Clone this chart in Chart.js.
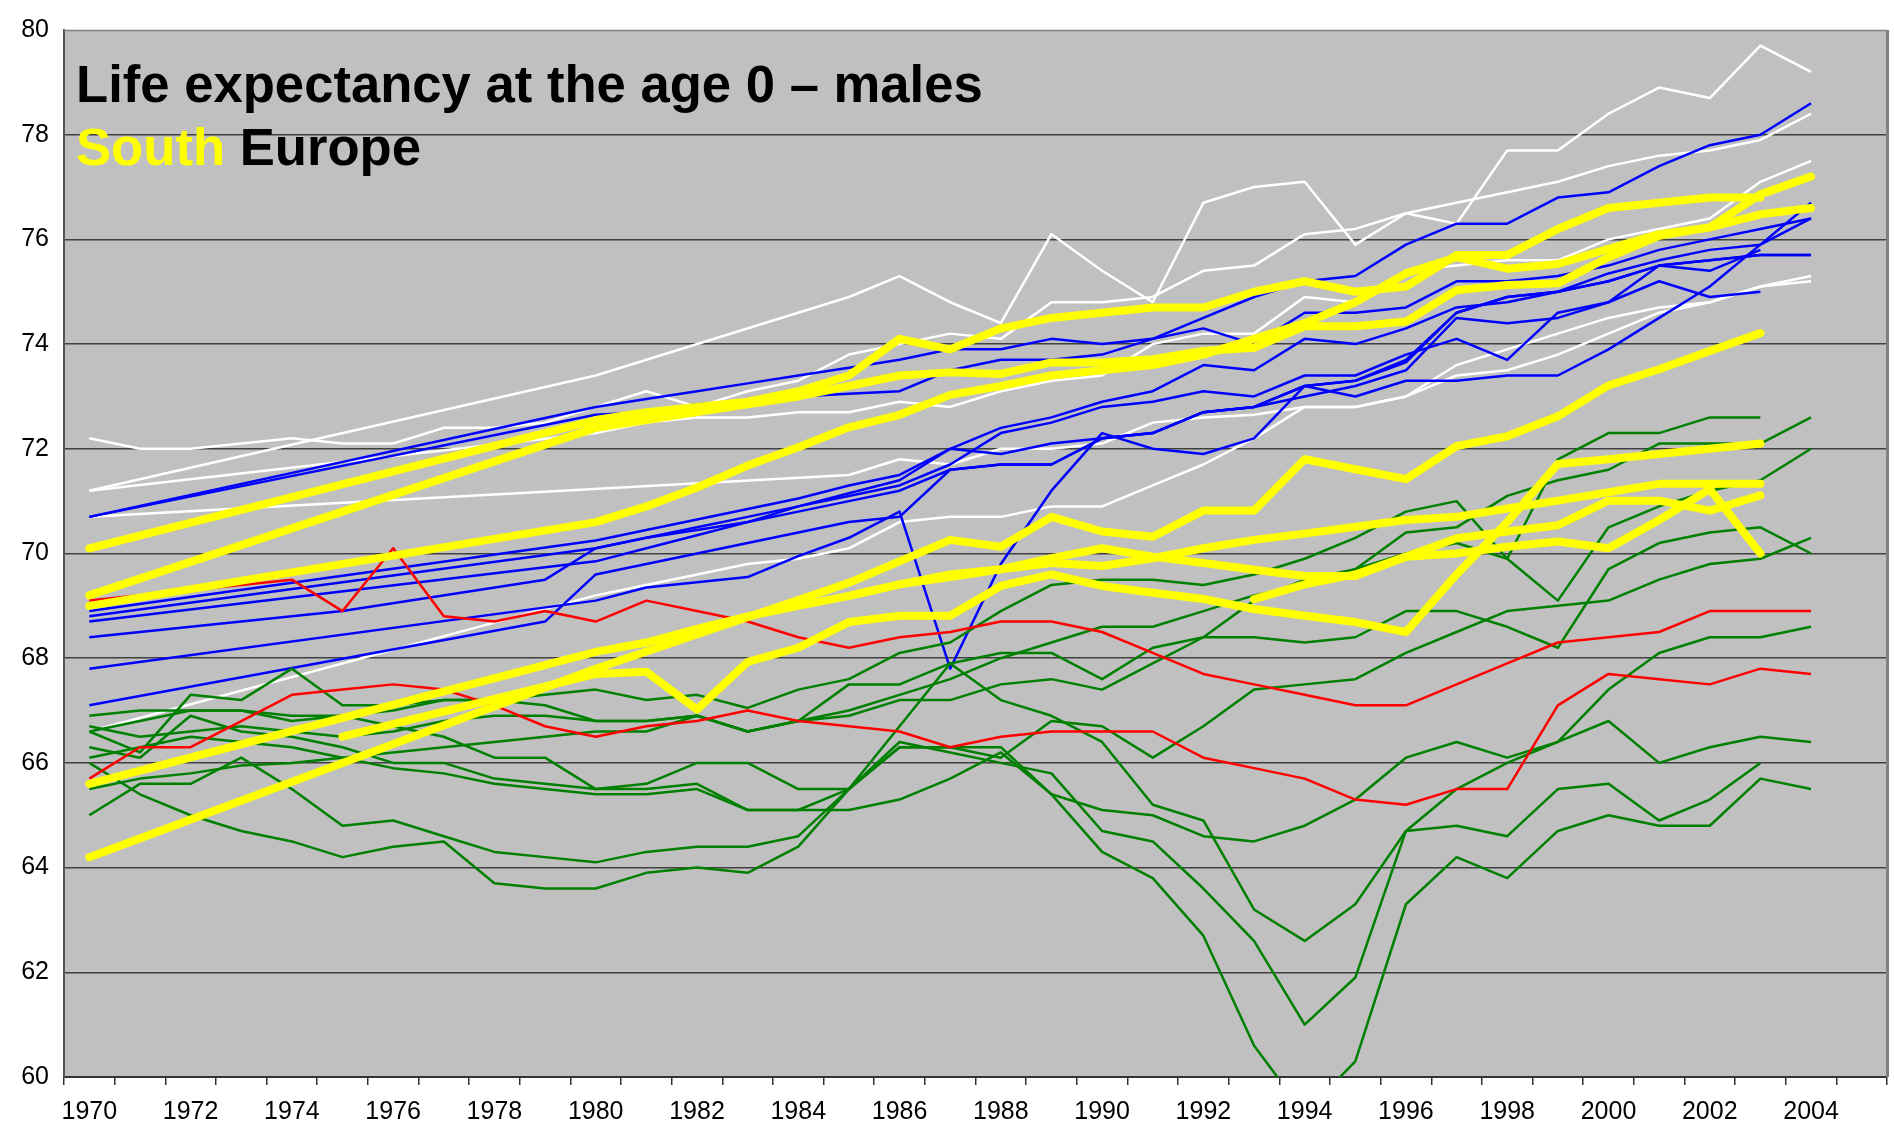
<!DOCTYPE html>
<html>
<head>
<meta charset="utf-8">
<script src="https://cdn.jsdelivr.net/npm/chart.js@4.4.1/dist/chart.umd.min.js"></script>
<style>
  html, body { margin: 0; padding: 0; background: #fff; }
  #wrap { width: 1894px; height: 1131px; }
</style>
</head>
<body>
<div id="wrap"><canvas id="chart" width="1894" height="1131"></canvas></div>
<script>
const years = [1970, 1971, 1972, 1973, 1974, 1975, 1976, 1977, 1978, 1979,
  1980, 1981, 1982, 1983, 1984, 1985, 1986, 1987, 1988, 1989,
  1990, 1991, 1992, 1993, 1994, 1995, 1996, 1997, 1998, 1999,
  2000, 2001, 2002, 2003, 2004, 2005];

const titleLine1 = 'Life expectancy at the age 0 \u2013 males';
const titleWord1 = 'South';
const titleWord2 = 'Europe';

const _ = null;

// South Europe (thick yellow)
const ySouth1 = [70.1, _, _, _, _, _, _, _, _, _, 72.55, 72.7, 72.8, 72.9, 73.1, 73.4, 74.1, 73.9, 74.3, 74.5, 74.6, 74.7, 74.7, 75.0, 75.2, 75.0, 75.1, 75.7, 75.7, 76.2, 76.6, 76.7, 76.8, 76.8, _];
const ySouth2 = [69.2, _, _, _, _, _, _, _, _, _, 72.4, 72.55, 72.7, 72.85, 73.0, 73.2, 73.4, 73.46, 73.43, 73.65, 73.65, 73.71, 73.87, 73.93, 74.34, 74.34, 74.43, 75.03, 75.13, 75.16, 75.66, 76.07, 76.23, 76.48, 76.6];
const ySouth3 = [69.0, _, _, _, _, _, _, _, _, _, 70.6, 70.9, 71.26, 71.68, 72.03, 72.41, 72.65, 73.03, 73.2, 73.4, 73.5, 73.6, 73.8, 74.1, 74.4, 74.8, 75.35, 75.66, 75.44, 75.53, 75.82, 76.1, 76.23, 76.86, 77.2];
const ySouth4 = [64.2, _, _, _, _, _, _, _, _, _, 67.8, _, _, _, _, 69.44, 69.85, 70.26, 70.13, 70.7, 70.42, 70.32, 70.82, 70.82, 71.8, 71.61, 71.42, 72.05, 72.24, 72.62, 73.21, 73.52, 73.87, 74.21, _];
const ySouth5 = [65.6, _, _, _, _, _, _, _, _, _, 68.12, 68.3, 68.56, 68.8, 69.0, 69.19, 69.41, 69.6, 69.7, 69.91, 70.1, 69.94, 69.82, 69.69, 69.57, 69.57, 69.94, 70.29, 70.42, 70.54, 71.01, 71.01, 70.82, 71.11, _];
const ySouth6 = [_, _, _, _, _, 66.5, _, _, _, _, 67.7, 67.74, 67.02, 67.93, 68.2, 68.69, 68.81, 68.81, 69.38, 69.6, 69.38, 69.25, 69.13, 68.94, 68.81, 68.69, 68.5, 69.6, 70.6, 71.71, 71.8, 71.9, 72.0, 72.1, _];
const ySouth7 = [_, _, _, _, _, _, _, _, _, _, _, _, _, _, _, 69.19, 69.41, 69.55, 69.7, 69.82, 69.76, 69.91, 70.1, 70.26, 70.38, 70.51, 70.64, 70.7, 70.86, 71.01, 71.17, 71.33, 71.33, 71.33, _];
const ySouth8 = [_, _, _, _, _, _, _, _, _, _, _, _, _, _, _, _, _, _, _, _, _, _, _, 69.13, 69.41, 69.6, 69.94, 70.0, 70.13, 70.23, 70.1, 70.64, 71.23, 70.0, _];

// red
const rRed1 = [69.1, _, _, _, 69.5, 68.9, 70.1, 68.8, 68.7, 68.9, 68.7, 69.1, 68.9, 68.7, 68.4, 68.2, 68.4, 68.5, 68.7, 68.7, 68.5, 68.1, 67.7, 67.5, 67.3, 67.1, 67.1, 67.5, 67.9, 68.3, 68.4, 68.5, 68.9, 68.9, 68.9];
const rRed2 = [65.7, 66.3, 66.3, 66.8, 67.3, 67.4, 67.5, 67.4, 67.1, 66.7, 66.5, 66.7, 66.8, 67.0, 66.8, 66.7, 66.6, 66.3, 66.5, 66.6, 66.6, 66.6, 66.1, 65.9, 65.7, 65.3, 65.2, 65.5, 65.5, 67.1, 67.7, 67.6, 67.5, 67.8, 67.7];

// green
const gEast1 = [66.9, 67.0, 67.0, 67.0, 66.8, 66.9, 67.0, 67.2, 67.2, 67.3, 67.4, 67.2, 67.3, 67.05, 67.4, 67.6, 68.1, 68.3, 68.9, 69.4, 69.5, 69.5, 69.4, 69.6, 69.9, 70.3, 70.8, 71.0, 69.9, 71.8, 72.3, 72.3, 72.6, 72.6, _];
const gEast2 = [66.6, 66.2, 67.3, 67.2, 67.8, 67.1, 67.1, 67.2, 67.2, 67.1, 66.8, 66.8, 66.9, 66.6, 66.8, 67.5, 67.5, 67.9, 68.1, 68.1, 67.6, 68.2, 68.4, 69.1, 69.5, 69.7, 70.4, 70.5, 71.1, 71.4, 71.6, 72.1, 72.1, 72.1, 72.6];
const gEast3 = [66.6, 66.8, 67.0, 67.0, 66.9, 66.9, 66.7, 66.5, 66.1, 66.1, 65.5, 65.6, 66.0, 66.0, 65.5, 65.5, 66.3, 66.3, 66.1, 66.8, 66.7, 66.1, 66.7, 67.4, 67.5, 67.6, 68.1, 68.5, 68.9, 69.0, 69.1, 69.5, 69.8, 69.9, 70.3];
const gEast4 = [66.7, 66.5, 66.6, 66.7, 66.6, 66.5, 66.6, 66.8, 66.9, 66.9, 66.8, 66.8, 66.9, 66.6, 66.8, 67.0, 67.3, 67.6, 68.0, 68.3, 68.6, 68.6, 68.9, 69.2, 69.4, 69.7, 70.0, 70.2, 69.9, 69.1, 70.5, 70.9, 71.2, 71.4, 72.0];
const gEast5 = [65.5, 65.7, 65.8, 65.95, 66.0, 66.1, 66.2, 66.3, 66.4, 66.5, 66.6, 66.6, 66.9, 66.6, 66.8, 66.9, 67.2, 67.2, 67.5, 67.6, 67.4, 67.9, 68.4, 68.4, 68.3, 68.4, 68.9, 68.9, 68.6, 68.2, 69.7, 70.2, 70.4, 70.5, 70.0];
const gEast6 = [66.3, 66.1, 66.9, 66.6, 66.5, 66.3, 66.0, 66.0, 65.7, 65.6, 65.5, 65.5, 65.6, 65.1, 65.1, 65.1, 65.3, 65.7, 66.2, 65.4, 65.1, 65.0, 64.6, 64.5, 64.8, 65.3, 66.1, 66.4, 66.1, 66.4, 67.4, 68.1, 68.4, 68.4, 68.6];
const gEast7 = [66.1, 66.3, 66.5, 66.4, 66.3, 66.1, 65.9, 65.8, 65.6, 65.5, 65.4, 65.4, 65.5, 65.1, 65.1, 65.5, 66.7, 67.9, 67.2, 66.9, 66.4, 65.2, 64.9, 63.2, 62.6, 63.3, 64.7, 65.5, 66.0, 66.4, 66.8, 66.0, 66.3, 66.5, 66.4];
const gEast8 = [66.0, 65.4, 65.0, 64.7, 64.5, 64.2, 64.4, 64.5, 63.7, 63.6, 63.6, 63.9, 64.0, 63.9, 64.4, 65.5, 66.3, 66.3, 66.3, 65.4, 64.3, 63.8, 62.7, 60.6, 59.3, 60.3, 63.3, 64.2, 63.8, 64.7, 65.0, 64.8, 64.8, 65.7, 65.5];
const gEast9 = [65.0, 65.6, 65.6, 66.1, 65.5, 64.8, 64.9, 64.6, 64.3, 64.2, 64.1, 64.3, 64.4, 64.4, 64.6, 65.5, 66.4, 66.2, 66.0, 65.8, 64.7, 64.5, 63.6, 62.6, 61.0, 61.9, 64.7, 64.8, 64.6, 65.5, 65.6, 64.9, 65.3, 66.0, _];

// blue
const bWest1 = [70.7, _, _, _, _, _, _, _, _, _, 72.65, 72.7, 72.85, 72.9, 73.0, 73.05, 73.1, 73.5, 73.7, 73.7, 73.8, 74.1, 74.5, 74.9, 75.2, 75.3, 75.9, 76.3, 76.3, 76.8, 76.9, 77.4, 77.8, 78.0, 78.6];
const bWest2 = [70.7, _, _, _, _, _, _, _, _, _, 72.8, 72.95, 73.1, 73.25, 73.4, 73.55, 73.7, 73.9, 73.9, 74.1, 74.0, 74.1, 74.3, 74.0, 74.6, 74.6, 74.7, 75.2, 75.2, 75.3, 75.5, 75.8, 76.0, 76.2, 76.4];
const bWest3 = [68.9, _, _, _, _, _, _, _, _, _, 70.25, 70.45, 70.65, 70.85, 71.05, 71.3, 71.5, 72.0, 72.4, 72.6, 72.9, 73.1, 73.6, 73.5, 74.1, 74.0, 74.3, 74.7, 74.8, 75.0, 75.35, 75.6, 75.8, 75.9, 76.4];
const bWest4 = [68.8, _, _, _, _, _, _, _, _, _, 70.1, 70.3, 70.5, 70.7, 70.9, 71.1, 71.3, 71.7, 72.3, 72.5, 72.8, 72.9, 73.1, 73.0, 73.4, 73.4, 73.8, 74.1, 73.7, 74.6, 74.8, 75.5, 75.4, 75.8, _];
const bWest5 = [68.7, _, _, _, _, _, _, _, _, _, 69.85, 70.1, 70.35, 70.6, 70.9, 71.15, 71.4, 72.0, 71.9, 72.1, 72.2, 72.3, 72.7, 72.8, 73.2, 73.3, 73.65, 74.6, 74.9, 75.0, 75.2, 75.5, 75.6, 75.7, 75.7];
const bWest6 = [67.8, _, _, _, _, _, _, _, _, _, 69.1, 69.35, 69.45, 69.55, 69.95, 70.3, 70.8, 67.8, 69.8, 71.2, 72.3, 72.0, 71.9, 72.2, 73.2, 73.0, 73.3, 73.3, 73.4, 73.4, 73.9, 74.5, 75.1, 75.9, 76.7];
const bWest7 = [68.4, _, _, _, _, 68.9, _, _, _, 69.5, 70.1, 70.3, 70.45, 70.6, 70.8, 71.0, 71.2, 71.6, 71.7, 71.7, 72.2, 72.3, 72.7, 72.8, 73.0, 73.2, 73.5, 74.5, 74.4, 74.5, 74.8, 75.2, 74.9, 75.0, _];
const bWest8 = [67.1, _, _, _, _, _, _, _, _, 68.7, 69.6, 69.8, 70.0, 70.2, 70.4, 70.6, 70.7, 71.6, 71.7, 71.7, 72.2, 72.3, 72.7, 72.8, 73.2, 73.3, 73.7, 74.6, 74.9, 75.0, 75.2, 75.5, 75.6, 75.7, 75.7];

// white
const wNorth1 = [71.2, _, _, _, _, _, _, _, _, _, 73.4, _, _, _, _, 74.9, 75.3, 74.8, 74.4, 76.1, 75.4, 74.8, 76.7, 77.0, 77.1, 75.9, 76.5, 76.3, 77.7, 77.7, 78.4, 78.9, 78.7, 79.7, 79.2];
const wNorth2 = [72.2, 72.0, 72.0, 72.1, 72.2, 72.1, 72.1, 72.4, 72.4, 72.5, 72.8, 73.1, 72.8, 73.1, 73.3, 73.8, 74.0, 74.2, 74.1, 74.8, 74.8, 74.9, 75.4, 75.5, 76.1, 76.2, 76.5, 76.7, 76.9, 77.1, 77.4, 77.6, 77.7, 77.9, 78.4];
const wNorth3 = [71.2, _, _, _, _, _, _, _, _, _, 72.3, 72.5, 72.6, 72.6, 72.7, 72.7, 72.9, 72.8, 73.1, 73.3, 73.4, 74.0, 74.2, 74.2, 74.9, 74.8, 75.4, 75.5, 75.6, 75.6, 76.0, 76.2, 76.4, 77.1, 77.5];
const wNorth4 = [70.7, _, _, _, _, _, _, _, _, _, _, _, _, _, _, 71.5, 71.8, 71.7, 72.0, 72.0, 72.1, 72.5, 72.6, 72.65, 72.8, 72.8, 73.0, 73.6, 73.9, 74.2, 74.5, 74.7, 74.8, 75.1, 75.3];
const wNorth5 = [66.6, _, _, _, _, _, _, _, _, _, 69.2, 69.4, 69.6, 69.8, 69.9, 70.1, 70.6, 70.7, 70.7, 70.9, 70.9, 71.3, 71.7, 72.2, 72.8, 72.8, 73.0, 73.4, 73.5, 73.8, 74.2, 74.6, 74.8, 75.1, 75.2];

const yellow = '#FFFF00', red = '#FF0000', green = '#008000', blue = '#0000FF', white = '#FFFFFF';

function series(data, color, width) {
  return {
    data: data,
    borderColor: color,
    backgroundColor: color,
    borderWidth: width,
    pointRadius: 0,
    pointHoverRadius: 0,
    tension: 0,
    spanGaps: true,
    fill: false,
    borderCapStyle: width > 4 ? 'round' : 'butt',
    borderJoinStyle: 'round',
    clip: 0,
  };
}

// first dataset is painted last, so yellow sits on top
const datasets = [
  ...[ySouth1, ySouth2, ySouth3, ySouth4, ySouth5, ySouth6, ySouth7, ySouth8].map((d) => series(d, yellow, 8)),
  ...[rRed1, rRed2].map((d) => series(d, red, 2.5)),
  ...[gEast1, gEast2, gEast3, gEast4, gEast5, gEast6, gEast7, gEast8, gEast9].map((d) => series(d, green, 2.5)),
  ...[bWest1, bWest2, bWest3, bWest4, bWest5, bWest6, bWest7, bWest8].map((d) => series(d, blue, 2.5)),
  ...[wNorth1, wNorth2, wNorth3, wNorth4, wNorth5].map((d) => series(d, white, 2.5)),
];

const fontFamily = '"Liberation Sans", Arial, sans-serif';

const frame = {
  id: 'frame',
  beforeDraw(chart) {
    const { ctx, chartArea: a } = chart;
    ctx.save();
    ctx.fillStyle = '#FFFFFF';
    ctx.fillRect(0, 0, chart.width, chart.height);
    ctx.fillStyle = '#C0C0C0';
    ctx.fillRect(a.left, a.top, a.right - a.left, a.bottom - a.top);
    ctx.restore();
  },
  afterDraw(chart) {
    const { ctx, chartArea: a } = chart;
    ctx.save();
    ctx.strokeStyle = '#808080';
    ctx.lineWidth = 1.5;
    ctx.beginPath();
    ctx.moveTo(a.left, a.top + 0.5);
    ctx.lineTo(a.right, a.top + 0.5);
    ctx.stroke();
    ctx.lineWidth = 3;
    ctx.beginPath();
    ctx.moveTo(a.right + 0.5, a.top);
    ctx.lineTo(a.right + 0.5, a.bottom);
    ctx.stroke();

    let size = 53;
    ctx.font = `bold ${size}px ${fontFamily}`;
    size = size * 907 / ctx.measureText(titleLine1).width;
    ctx.font = `bold ${size}px ${fontFamily}`;
    ctx.textBaseline = 'alphabetic';
    ctx.textAlign = 'left';
    ctx.fillStyle = '#000000';
    ctx.fillText(titleLine1, 76, 102);
    ctx.fillStyle = yellow;
    ctx.fillText(titleWord1, 76, 165);
    const gap = ctx.measureText(titleWord1 + ' ').width;
    ctx.fillStyle = '#000000';
    ctx.fillText(titleWord2, 76 + gap, 165);
    ctx.restore();
  },
};

new Chart(document.getElementById('chart'), {
  type: 'line',
  data: { labels: years, datasets: datasets },
  options: {
    responsive: false,
    animation: false,
    devicePixelRatio: 1,
    layout: { padding: { top: 17, right: 7, left: 0, bottom: 0 } },
    plugins: { legend: { display: false }, tooltip: { enabled: false }, title: { display: false } },
    scales: {
      x: {
        type: 'category',
        offset: true,
        afterFit: (scale) => { scale.height = 54; },
        grid: { offset: true, drawOnChartArea: false, drawTicks: true, tickLength: 8, color: '#333333', lineWidth: 1.5 },
        border: { display: true, color: '#333333', width: 2 },
        ticks: {
          autoSkip: false,
          maxRotation: 0,
          minRotation: 0,
          padding: 12,
          color: '#000000',
          font: { family: fontFamily, size: 25 },
          callback: function (value, index) {
            const y = years[index];
            return (y % 2 === 0 && y <= 2004) ? String(y) : '';
          },
        },
      },
      y: {
        min: 60,
        max: 80,
        afterFit: (scale) => { scale.width = 64; },
        grid: {
          drawTicks: false,
          color: (c) => (c.tick && (c.tick.value === 80 || c.tick.value === 60)) ? 'rgba(0,0,0,0)' : '#404040',
          lineWidth: 1.4,
        },
        border: { display: true, color: '#555555', width: 2 },
        ticks: {
          stepSize: 2,
          padding: 15,
          color: '#000000',
          font: { family: fontFamily, size: 25 },
        },
      },
    },
  },
  plugins: [frame],
});
</script>
</body>
</html>
